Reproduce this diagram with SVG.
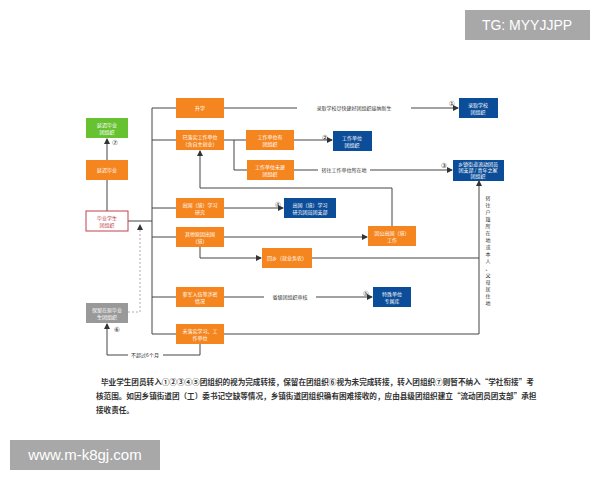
<svg xmlns="http://www.w3.org/2000/svg" width="600" height="480" viewBox="0 0 600 480">
<defs>
<marker id="ar" markerWidth="6" markerHeight="6" refX="5" refY="3" orient="auto" markerUnits="userSpaceOnUse"><path d="M0,0 L6,3 L0,6 z" fill="#333"/></marker>
<style>
.o{fill:#f5861f}.b{fill:#0b4d98}.g{fill:#67c232}
.t{font-family:"Noto Sans CJK SC","Noto Sans",sans-serif;font-size:5px;fill:#fff;text-anchor:middle}
.l{font-family:"Noto Sans CJK SC",sans-serif;font-size:5px;fill:#333;text-anchor:middle}
.n{font-family:"DejaVu Sans",sans-serif;font-size:7px;fill:#333;text-anchor:middle}
.c{fill:none;stroke:#444;stroke-width:1}
</style>
</defs>
<rect width="600" height="480" fill="#fff"/>
<g id="wm1"><rect x="465" y="10" width="125" height="30" fill="#a8a8a8"/><text x="527" y="30" font-family="Liberation Sans,sans-serif" font-size="14" fill="#fff" text-anchor="middle">TG: MYYJJPP</text></g>
<g id="wm2"><rect x="10" y="440" width="150" height="30" fill="#a8a8a8"/><text x="85" y="460" font-family="Liberation Sans,sans-serif" font-size="15" fill="#fff" text-anchor="middle">www.m-k8gj.com</text></g>
<g id="connectors">
<path class="c" d="M107,211 V180" /><path class="c" d="M107,160 V139" marker-end="url(#ar)"/>
<path class="c" d="M128,221 H152 M152,108 V334 M152,108 H176 M152,140 H176 M152,208 H176 M152,237 H176 M152,297 H176 M152,334 H176"/>
<path class="c" d="M224,108 H458" marker-end="url(#ar)"/>
<path class="c" d="M224,140 H246 M294,140 H332" marker-end="url(#ar)"/>
<path class="c" d="M234,140 V170 H247"/>
<path class="c" d="M294,170 H452" marker-end="url(#ar)"/>
<path class="c" d="M224,208 H283" marker-end="url(#ar)"/>
<path class="c" d="M224,237 H367" marker-end="url(#ar)"/>
<path class="c" d="M200,247 V258 H261" marker-end="url(#ar)"/>
<path class="c" d="M312,258 H479"/>
<path class="c" d="M392,226 V188 H200 V151" marker-end="url(#ar)"/>
<path class="c" d="M224,297 H372" marker-end="url(#ar)"/>
<path class="c" d="M224,334 H479 V181" marker-end="url(#ar)"/>
<path class="c" d="M200,344 V355 H107 V324" marker-end="url(#ar)"/>
<path d="M128,312 H140 V225" fill="none" stroke="#999" stroke-width="0.8" stroke-dasharray="2,2" marker-end="url(#ar)"/>
<rect x="297" y="105" width="114" height="6" fill="#fff"/><text class="l" x="354" y="110">录取学校尽快建好团组织接纳新生</text>
<rect x="318" y="167" width="52" height="6" fill="#fff"/><text class="l" x="344" y="172">转往工作单位所在地</text>
<rect x="264" y="294" width="52" height="6" fill="#fff"/><text class="l" x="290" y="299">省级团组织审核</text>
<rect x="128" y="352" width="35" height="6" fill="#fff"/><text class="l" x="145" y="357">不超过6个月</text>
<text class="n" x="452" y="106">①</text><text class="n" x="325" y="140">②</text><text class="n" x="444" y="168">③</text><text class="n" x="278" y="207">④</text><text class="n" x="366" y="296">⑤</text><text class="n" x="117" y="332">⑥</text><text class="n" x="115" y="145">⑦</text>
<text class="l" x="488"><tspan x="488" y="200">转</tspan><tspan x="488" y="207">往</tspan><tspan x="488" y="214">户</tspan><tspan x="488" y="221">籍</tspan><tspan x="488" y="228">所</tspan><tspan x="488" y="235">在</tspan><tspan x="488" y="242">地</tspan><tspan x="488" y="249">或</tspan><tspan x="488" y="256">本</tspan><tspan x="488" y="263">人</tspan><tspan x="488" y="270">、</tspan><tspan x="488" y="277">父</tspan><tspan x="488" y="284">母</tspan><tspan x="488" y="291">居</tspan><tspan x="488" y="298">住</tspan><tspan x="488" y="305">地</tspan></text>
</g>
<g id="n1"><rect class="g" x="86" y="118" width="42" height="20"/><text class="t" x="107" y="127">延迟毕业</text><text class="t" x="107" y="134">团组织</text></g>
<g id="n2"><rect class="o" x="86" y="160" width="42" height="20"/><text class="t" x="107" y="172">延迟毕业</text></g>
<g id="n3"><rect x="86" y="211" width="42" height="20" fill="#fff" stroke="#c0404a" stroke-width="1"/><text class="t" x="107" y="220" style="fill:#c0404a">毕业学生</text><text class="t" x="107" y="227" style="fill:#c0404a">团组织</text></g>
<g id="n4"><rect x="86" y="303" width="42" height="20" fill="#999"/><text class="t" x="107" y="312">保留在原毕业</text><text class="t" x="107" y="319">生团组织</text></g>
<g id="n5"><rect class="o" x="176" y="98" width="48" height="20"/><text class="t" x="200" y="110">升学</text></g>
<g id="n6"><rect class="o" x="176" y="130" width="48" height="20"/><text class="t" x="200" y="139">已落实工作单位</text><text class="t" x="200" y="146">（含自主创业）</text></g>
<g id="n7"><rect class="o" x="246" y="130" width="48" height="20"/><text class="t" x="270" y="139">工作单位有</text><text class="t" x="270" y="146">团组织</text></g>
<g id="n8"><rect class="o" x="247" y="160" width="47" height="20"/><text class="t" x="270" y="169">工作单位未建</text><text class="t" x="270" y="176">团组织</text></g>
<g id="n9"><rect class="o" x="176" y="198" width="48" height="20"/><text class="t" x="200" y="207">出国（境）学习</text><text class="t" x="200" y="214">研究</text></g>
<g id="n10"><rect class="o" x="176" y="227" width="48" height="20"/><text class="t" x="200" y="236">其他原因出国</text><text class="t" x="200" y="243">（境）</text></g>
<g id="n11"><rect class="o" x="262" y="248" width="50" height="20"/><text class="t" x="287" y="260">回乡（就业务农）</text></g>
<g id="n12"><rect class="o" x="368" y="226" width="48" height="20"/><text class="t" x="392" y="235">因公出国（境）</text><text class="t" x="392" y="242">工作</text></g>
<g id="n13"><rect class="o" x="176" y="287" width="48" height="20"/><text class="t" x="200" y="296">参军入伍等涉密</text><text class="t" x="200" y="303">情况</text></g>
<g id="n14"><rect class="o" x="176" y="324" width="48" height="20"/><text class="t" x="200" y="333">未落实学习、工</text><text class="t" x="200" y="340">作单位</text></g>
<g id="n15"><rect class="b" x="459" y="98" width="39" height="20"/><text class="t" x="478" y="107">录取学校</text><text class="t" x="478" y="114">团组织</text></g>
<g id="n16"><rect class="b" x="333" y="131" width="39" height="20"/><text class="t" x="352" y="140">工作单位</text><text class="t" x="352" y="147">团组织</text></g>
<g id="n17"><rect class="b" x="453" y="160" width="51" height="21"/><text class="t" x="478" y="166">乡镇街道流动团员</text><text class="t" x="478" y="172">团支部 / 青年之家</text><text class="t" x="478" y="178">团组织</text></g>
<g id="n18"><rect class="b" x="284" y="198" width="52" height="20"/><text class="t" x="310" y="207">出国（境）学习</text><text class="t" x="310" y="214">研究团员团支部</text></g>
<g id="n19"><rect class="b" x="373" y="287" width="38" height="20"/><text class="t" x="392" y="296">特殊单位</text><text class="t" x="392" y="303">专属库</text></g>
<g id="para" font-family="Noto Sans CJK SC,sans-serif" font-size="7.6" font-weight="bold" fill="#333">
<text x="101" y="385">毕业学生团员转入①②③④⑤团组织的视为完成转接，保留在团组织⑥视为未完成转接，转入团组织⑦则暂不纳入“学社衔接”考</text>
<text x="96" y="399">核范围。如因乡镇街道团（工）委书记空缺等情况，乡镇街道团组织确有困难接收的，应由县级团组织建立“流动团员团支部”承担</text>
<text x="96" y="413">接收责任。</text>
</g>
</svg>
